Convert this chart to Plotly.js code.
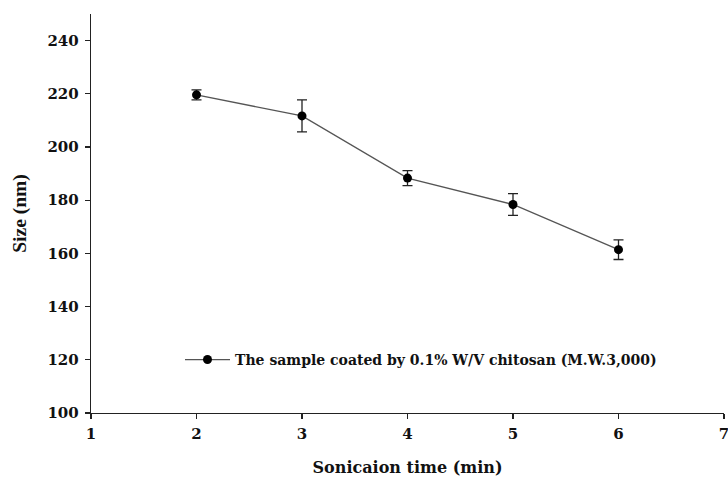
<!DOCTYPE html>
<html>
<head>
<meta charset="utf-8">
<script src="https://cdn.plot.ly/plotly-3.0.1.min.js"></script>
<style>html,body{margin:0;padding:0;background:#fff;}#chart{width:728px;height:478px;}</style>
</head>
<body>
<div id="chart"></div>
<script>
const times = [2, 3, 4, 5, 6];
const sizes = [219.6, 211.7, 188.3, 178.4, 161.4];
const errors = [1.9, 6.0, 2.8, 4.1, 3.7];
const seriesName = "The sample coated by 0.1% W/V chitosan (M.W.3,000)";
const xTicks = [1, 2, 3, 4, 5, 6, 7];
const yTicks = [100, 120, 140, 160, 180, 200, 220, 240];

const wide = "DejaVu Serif, serif";
const tall = "Liberation Serif, Times New Roman, serif";

const trace = {
  x: times, y: sizes, name: seriesName,
  type: "scatter", mode: "lines+markers",
  line: {color: "#555", width: 1.3},
  marker: {color: "#000", size: 9, symbol: "circle"},
  error_y: {type: "data", array: errors, visible: true, color: "#222", thickness: 1.3, width: 5}
};

const layout = {
  width: 728, height: 478,
  margin: {l: 91, r: 4, t: 14, b: 65},
  paper_bgcolor: "#fff", plot_bgcolor: "#fff",
  showlegend: true,
  legend: {x: 0.1406, y: 0.133, xanchor: "left", yanchor: "middle", bgcolor: "rgba(0,0,0,0)",
           itemwidth: 45,
           font: {family: wide, size: 14, color: "#111", weight: "bold"}},
  xaxis: {
    range: [1, 7], tickvals: xTicks, ticktext: xTicks.map(String),
    showline: true, linecolor: "#222", linewidth: 1.3, showgrid: false, zeroline: false,
    ticks: "outside", ticklen: 5, tickwidth: 1.2, tickcolor: "#222",
    ticklabeloverflow: "allow", ticklabelstandoff: 2,
    tickfont: {family: wide, size: 15, color: "#111", weight: "bold"},
    title: {text: "Sonicaion time (min)", font: {family: wide, size: 16, color: "#111", weight: "bold"}, standoff: 19},
    automargin: false
  },
  yaxis: {
    range: [100, 250], tickvals: yTicks, ticktext: yTicks.map(String),
    showline: true, linecolor: "#222", linewidth: 1.3, showgrid: false, zeroline: false,
    ticks: "outside", ticklen: 5, tickwidth: 1.2, tickcolor: "#222",
    ticklabelstandoff: 3,
    tickfont: {family: wide, size: 15, color: "#111", weight: "bold"},
    title: {text: "Size (nm)", font: {family: tall, size: 19.5, color: "#111", weight: "bold"}, standoff: 15},
    automargin: false
  }
};

Plotly.newPlot("chart", [trace], layout, {displayModeBar: false, staticPlot: true});
</script>
</body>
</html>
